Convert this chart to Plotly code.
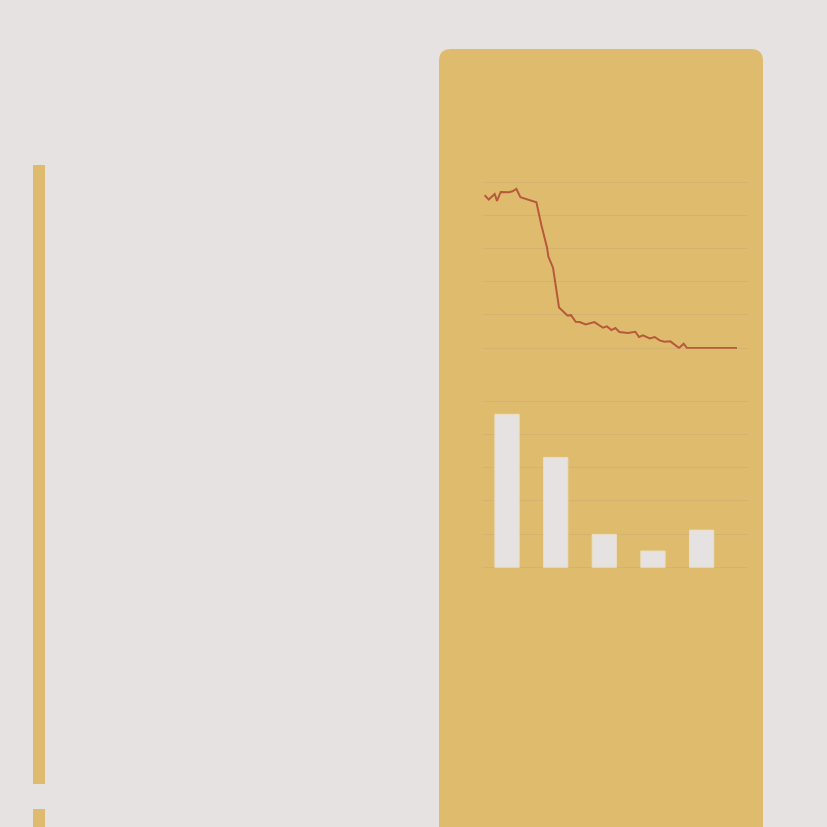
import plotly.graph_objects as go

# serie de la linea (posicion en x, valor)
linea_x = [2, 6, 12, 14.3, 18, 26.3, 29.7, 33.7, 37.7, 53.7, 58.7, 64.3, 65.7, 70.3,
           76.3, 84.7, 88.3, 93, 97, 103, 111.7, 120.3, 124.3, 128.7, 132.7, 136.7,
           145.3, 152.7, 156.3, 160.3, 167, 172, 177, 181.7, 187.7, 196.3, 201, 204.3, 254.3]
linea_y = [4.60, 4.47, 4.64, 4.43, 4.70, 4.69, 4.72, 4.79, 4.54, 4.39, 3.70, 3.03, 2.75, 2.42,
           1.22, 0.98, 0.99, 0.79, 0.78, 0.71, 0.78, 0.61, 0.65, 0.54, 0.60, 0.48,
           0.45, 0.49, 0.33, 0.38, 0.29, 0.33, 0.23, 0.19, 0.20, 0.0, 0.13, 0.0, 0.0]

# barras
categorias = ["A", "B", "C", "D", "E"]
valores = [4.61, 3.31, 0.99, 0.49, 1.12]

W = H = 827
fondo = "#E6E2E1"
amarillo = "#DFBB6E"
rejilla = "#D4B26F"


def px(x):
    return x / W


def py(y):
    return 1 - y / H


def panel_path(x0, y0, x1, y1, r):
    return (f"M {px(x0)},{py(y1)} L {px(x0)},{py(y0 + r)} "
            f"Q {px(x0)},{py(y0)} {px(x0 + r)},{py(y0)} "
            f"L {px(x1 - r)},{py(y0)} Q {px(x1)},{py(y0)} {px(x1)},{py(y0 + r)} "
            f"L {px(x1)},{py(y1)} Z")


fig = go.Figure()

fig.add_trace(go.Scatter(
    x=linea_x, y=linea_y, mode="lines",
    line=dict(color="#B65A3B", width=2),
    xaxis="x", yaxis="y", showlegend=False, hoverinfo="skip"
))

fig.add_trace(go.Bar(
    x=categorias, y=valores,
    marker=dict(color=fondo, line=dict(color="#EADDBF", width=1)),
    width=0.5, xaxis="x2", yaxis="y2", showlegend=False, hoverinfo="skip"
))

shapes = [
    dict(type="path", xref="paper", yref="paper", path=panel_path(439, 49, 763, 840, 12),
         fillcolor=amarillo, line=dict(width=0), layer="below"),
    dict(type="rect", xref="paper", yref="paper", x0=px(33), x1=px(45), y0=py(784), y1=py(165),
         fillcolor=amarillo, line=dict(width=0), layer="below"),
    dict(type="rect", xref="paper", yref="paper", x0=px(33), x1=px(45), y0=py(840), y1=py(809),
         fillcolor=amarillo, line=dict(width=0), layer="below"),
]

eje_x = dict(showticklabels=False, ticks="", zeroline=False, showline=False, showgrid=False)
eje_y = dict(showticklabels=False, ticks="", showline=False, range=[-0.02, 5.1], dtick=1,
             showgrid=True, gridcolor=rejilla, gridwidth=1,
             zeroline=True, zerolinecolor=rejilla, zerolinewidth=1)

fig.update_layout(
    width=W, height=H,
    margin=dict(l=0, r=0, t=0, b=0),
    paper_bgcolor=fondo, plot_bgcolor="rgba(0,0,0,0)",
    shapes=shapes,
    xaxis=dict(domain=[px(482.7), px(748.3)], range=[0, 265.6], anchor="y", **eje_x),
    yaxis=dict(domain=[py(348.66), py(178.68)], anchor="x", **eje_y),
    xaxis2=dict(domain=[px(482.7), px(748.3)], range=[-0.5, 4.96], anchor="y2", **eje_x),
    yaxis2=dict(domain=[py(567.96), py(397.98)], anchor="x2", **eje_y),
)

fig.write_html("out.html", config={"displayModeBar": False})

# quitar el margen por defecto del body
with open("out.html", "r", encoding="utf-8") as f:
    html = f.read()
html = html.replace("<body>", '<body style="margin:0;background:%s">' % fondo, 1)
with open("out.html", "w", encoding="utf-8") as f:
    f.write(html)
